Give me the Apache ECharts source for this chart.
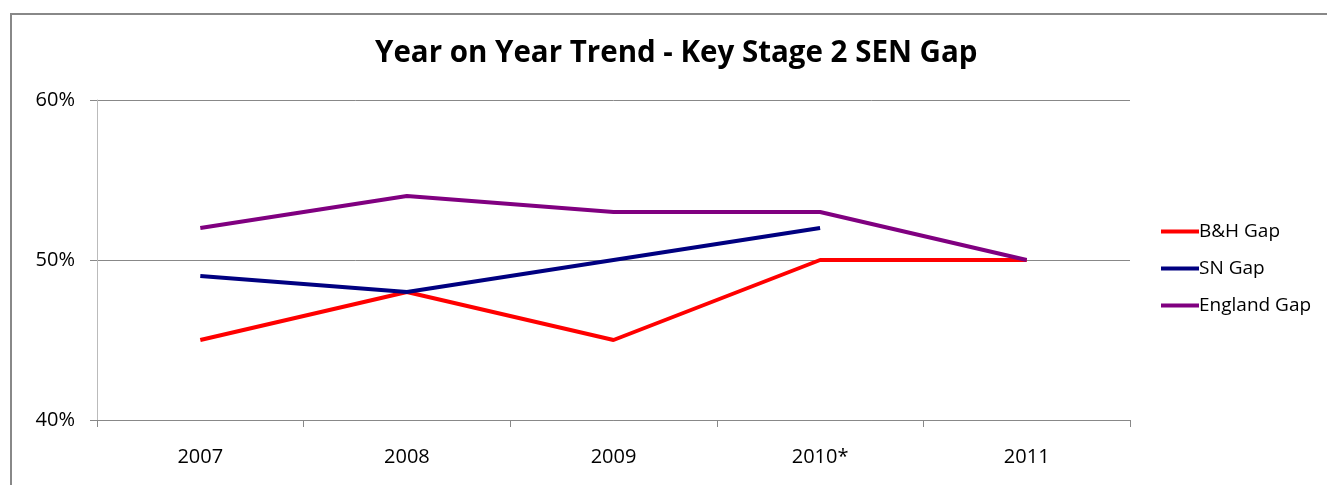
<!DOCTYPE html>
<html>
  <head>
    <meta charset="utf-8" />
    <title>Key Stage 2 SEN Gap</title>
    <script src="https://cdn.jsdelivr.net/npm/echarts@6.0.0/dist/echarts.min.js"></script>
    <style>
      html, body { margin: 0; padding: 0; background: #fff; }
    </style>
  </head>
  <body>
    <div id="chartContainer" style="width: 1327px;height:485px;"></div>
    <script>
        // data
        var years = ['2007', '2008', '2009', '2010*', '2011'];
        var bhGap = [0.45, 0.48, 0.45, 0.50, 0.50];
        var snGap = [0.49, 0.48, 0.50, 0.52, null];
        var englandGap = [0.52, 0.54, 0.53, 0.53, 0.50];

        var myChart = echarts.init(document.getElementById('chartContainer'));
        var font = '"Open Sans", "Noto Sans", sans-serif';

        var option = {
          animation: false,
          textStyle: { fontFamily: font },
          // outer frame of the chart
          graphic: [
            {
              type: 'rect',
              shape: { x: 11, y: 14, width: 1400, height: 500 },
              style: { fill: 'none', stroke: '#888', lineWidth: 2 },
              silent: true
            }
          ],
          title: {
            text: 'Year on Year Trend - Key Stage 2 SEN Gap',
            left: 370,
            top: 34,
            textStyle: { fontFamily: font, fontSize: 29.5, fontWeight: 'bold', color: '#000' }
          },
          legend: {
            orient: 'vertical',
            left: 1156,
            top: 217,
            itemWidth: 38,
            itemHeight: 4,
            itemGap: 18,
            icon: 'rect',
            textStyle: { fontFamily: font, fontSize: 19, color: '#000', padding: [0, 0, 0, -5] },
            data: ['B&H Gap', 'SN Gap', 'England Gap']
          },
          grid: { left: 97, right: 197, top: 100, bottom: 65 },
          xAxis: {
            type: 'category',
            data: years,
            boundaryGap: true,
            axisLine: { lineStyle: { color: '#888', width: 1 } },
            axisTick: { show: true, length: 7, inside: false, lineStyle: { color: '#888' } },
            axisLabel: { color: '#000', fontSize: 20, margin: 27, fontFamily: font }
          },
          yAxis: {
            type: 'value',
            min: 0.4,
            max: 0.6,
            interval: 0.1,
            axisLine: { show: true, lineStyle: { color: '#bbb', width: 1 } },
            axisTick: { show: true, length: 7, lineStyle: { color: '#888' } },
            splitLine: { lineStyle: { color: '#888', width: 1 } },
            axisLabel: {
              color: '#000', fontSize: 20, margin: 22, fontFamily: font,
              formatter: function (v) { return Math.round(v * 100) + '%'; }
            }
          },
          series: [
            {
              name: 'B&H Gap', type: 'line', data: bhGap,
              showSymbol: false, symbol: 'none',
              lineStyle: { color: '#ff0000', width: 4 }, itemStyle: { color: '#ff0000' }
            },
            {
              name: 'SN Gap', type: 'line', data: snGap,
              showSymbol: false, symbol: 'none',
              lineStyle: { color: '#000080', width: 4 }, itemStyle: { color: '#000080' }
            },
            {
              name: 'England Gap', type: 'line', data: englandGap,
              showSymbol: false, symbol: 'none',
              lineStyle: { color: '#800080', width: 4 }, itemStyle: { color: '#800080' }
            }
          ]
        };

        myChart.setOption(option);
    </script>
  </body>
</html>
